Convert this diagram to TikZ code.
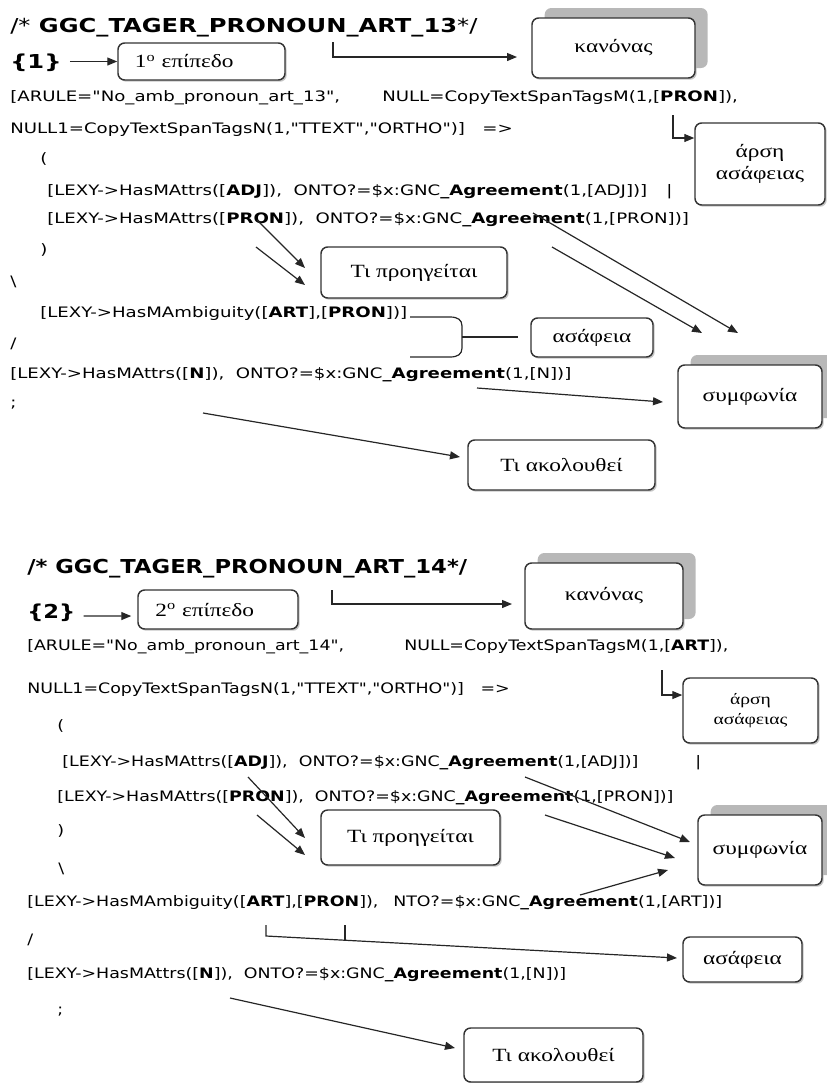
\documentclass[tikz,border=0pt]{standalone}
\usepackage{fontspec}
\usetikzlibrary{arrows.meta,shadows}
\newfontfamily\codefont[Ligatures=TeXOff,FakeStretch=1.26]{DejaVu Sans}
\newfontfamily\codefontb[Ligatures=TeXOff,FakeStretch=1.21]{DejaVu Sans}
\newfontfamily\ttlfontb[Ligatures=TeXOff,FakeStretch=1.18]{DejaVu Sans}
\newfontfamily\grfont[FakeStretch=1.25]{Liberation Serif}
\begin{document}
\begin{tikzpicture}[x=0.75pt,y=-0.75pt,
  code/.style={font=\codefont\fontsize{10.8pt}{13pt}\selectfont, inner sep=0pt, anchor=base west},
  codeb/.style={font=\codefontb\fontsize{10.8pt}{13pt}\selectfont, inner sep=0pt, anchor=base west},
  ttl/.style={font=\codefont\bfseries\fontsize{14.4pt}{17pt}\selectfont, inner sep=0pt, anchor=base west},
  ttlb/.style={font=\ttlfontb\bfseries\fontsize{14.4pt}{17pt}\selectfont, inner sep=0pt, anchor=base west},
  lbl/.style={draw=black!80, line width=1.1pt, rounded corners=5pt, fill=white,
    font=\grfont\fontsize{14pt}{17pt}\selectfont, align=center, inner sep=0pt,
    drop shadow={shadow xshift=1.3pt, shadow yshift=-1.3pt, fill=black!45}},
  stack/.style={copy shadow={shadow xshift=9.5pt, shadow yshift=7.5pt, fill=black!28, draw=none}},
  arr/.style={-{Triangle[length=7.5pt,width=6pt]}, line width=0.9pt, black!85},
  ln/.style={line width=0.9pt, black!85}]
\useasboundingbox (0,0) rectangle (826,1083);

%%%%%%%%%%%%%%%%%%%% TOP %%%%%%%%%%%%%%%%%%%%
\node[ttl] (t1) at (10,32) {{\mdseries/*} GGC\_TAGER\_PRONOUN\_ART\_13{\mdseries*/}};
\node[ttl] (b1) at (10,68) {\{1\}};
\node[lbl, minimum width=125.25pt, minimum height=27.75pt, text width=100pt, align=left] (e1) at (201.5,61.5) {1\textsuperscript{ο} επίπεδο};

\node[code] (l1) at (10,101) {[ARULE="No\_amb\_pronoun\_art\_13",};
\node[code] (l1b) at (382,101) {NULL=CopyTextSpanTagsM(1,[\textbf{PRON}]),};
\node[code] (l2) at (10,133) {NULL1=CopyTextSpanTagsN(1,"TTEXT","ORTHO")]\ \ \ =>};
\node[code] (l3) at (40,163) {(};
\node[code] (l4) at (47,195) {[LEXY->HasMAttrs([\textbf{ADJ}]),\ \ ONTO?=\$x:GNC\textbf{\_Agreement}(1,[ADJ])]};
\node[code] (l4b) at (666,195) {|};
\node[code] (l5) at (47,223) {[LEXY->HasMAttrs([\textbf{PRON}]),\ \ ONTO?=\$x:GNC\textbf{\_Agreement}(1,[PRON])]};
\node[code] (l6) at (40,254) {)};
\node[code] (l7) at (10,286) {\textbackslash};
\node[code] (l8) at (40,317) {[LEXY->HasMAmbiguity([\textbf{ART}],[\textbf{PRON}])]};
\node[code] (l9) at (10,348) {/};
\node[code] (l10) at (10,378) {[LEXY->HasMAttrs([\textbf{N}]),\ \ ONTO?=\$x:GNC\textbf{\_Agreement}(1,[N])]};
\node[code] (l11) at (10,407) {;};

\node[lbl, stack, minimum width=122.25pt, minimum height=45pt] (kan1) at (613.5,48) {κανόνας};
\node[lbl, minimum width=97.5pt, minimum height=61.5pt] (ars1) at (760,164) {άρση\\ασάφειας};
\node[lbl, minimum width=139.5pt, minimum height=38.25pt] (prev1) at (414,272.5) {Τι προηγείται};
\node[lbl, minimum width=91.5pt, minimum height=29.25pt] (asaf1) at (592,337.5) {ασάφεια};
\node[lbl, stack, minimum width=108pt, minimum height=47.25pt] (sym1) at (750,396.5) {συμφωνία};
\node[lbl, minimum width=140.25pt, minimum height=37.5pt] (next1) at (561.5,465) {Τι ακολουθεί};

\coordinate (a2s) at (333,42);   \coordinate (a2e) at (517,57);
\coordinate (a3s) at (673,115);
\coordinate (a4s) at (257,220);  \coordinate (a4e) at (305,268);
\coordinate (a5s) at (256,247);  \coordinate (a5e) at (305,285);
\coordinate (a6s) at (533,213);  \coordinate (a6e) at (738,333);
\coordinate (a7s) at (552,247);  \coordinate (a7e) at (702,333);
\coordinate (a8s) at (477,388);  \coordinate (a8e) at (663,402);
\coordinate (a9s) at (203,413);  \coordinate (a9e) at (460,457);
\coordinate (brt) at (410,317);  \coordinate (brb) at (410,357);
\coordinate (brm) at (462,337);  \coordinate (bre) at (518,337);

\draw[arr, shorten <=6pt] (b1.east |- e1.west) -- (e1.west);
\draw[arr] (a2s) |- (a2e);
\draw[arr] (a3s) |- ([yshift=19.5pt]ars1.west);
\draw[arr] (a4s) -- (a4e);
\draw[arr] (a5s) -- (a5e);
\draw[arr] (a6s) -- (a6e);
\draw[arr] (a7s) -- (a7e);
\draw[arr] (a8s) -- (a8e);
\draw[arr] (a9s) -- (a9e);
\draw[ln] (brt) -- (450,317) .. controls (458,317) and (462,320) .. (462,326)
          -- (462,348) .. controls (462,354) and (458,357) .. (450,357) -- (brb);
\draw[ln] (brm) -- (bre);

%%%%%%%%%%%%%%%%%%%% BOTTOM %%%%%%%%%%%%%%%%%%%%
\node[ttlb] (t2) at (27,573) {/* GGC\_TAGER\_PRONOUN\_ART\_14*/};
\node[ttlb] (b2) at (27,618) {\{2\}};
\node[lbl, minimum width=120pt, minimum height=29.25pt, text width=94pt, align=left] (e2) at (218,609.5) {2\textsuperscript{ο} επίπεδο};

\node[codeb] (m1) at (27,650) {[ARULE="No\_amb\_pronoun\_art\_14",};
\node[codeb] (m1b) at (404,650) {NULL=CopyTextSpanTagsM(1,[\textbf{ART}]),};
\node[codeb] (m2) at (27,693) {NULL1=CopyTextSpanTagsN(1,"TTEXT","ORTHO")]\ \ \ =>};
\node[codeb] (m3) at (57,730) {(};
\node[codeb] (m4) at (62,766) {[LEXY->HasMAttrs([\textbf{ADJ}]),\ \ ONTO?=\$x:GNC\textbf{\_Agreement}(1,[ADJ])]};
\node[codeb] (m4b) at (695,766) {|};
\node[codeb] (m5) at (57,801) {[LEXY->HasMAttrs([\textbf{PRON}]),\ \ ONTO?=\$x:GNC\textbf{\_Agreement}(1,[PRON])]};
\node[codeb] (m6) at (57,835) {)};
\node[codeb] (m7) at (58,873) {\textbackslash};
\node[codeb] (m8) at (27,906) {[LEXY->HasMAmbiguity([\textbf{ART}],[\textbf{PRON}]),};
\node[codeb] (m8b) at (393,906) {NTO?=\$x:GNC\textbf{\_Agreement}(1,[ART])]};
\node[codeb] (m9) at (27,944) {/};
\node[codeb] (m10) at (27,978) {[LEXY->HasMAttrs([\textbf{N}]),\ \ ONTO?=\$x:GNC\textbf{\_Agreement}(1,[N])]};
\node[codeb] (m11) at (57,1014) {;};

\node[lbl, stack, minimum width=118.5pt, minimum height=49.5pt] (kan2) at (604,596) {κανόνας};
\node[lbl, minimum width=101.25pt, minimum height=48.75pt, font=\grfont\fontsize{11.75pt}{15pt}\selectfont] (ars2) at (750.5,710.5) {άρση\\ασάφειας};
\node[lbl, minimum width=134.25pt, minimum height=41.25pt] (prev2) at (410.5,837.5) {Τι προηγείται};
\node[lbl, stack, minimum width=93pt, minimum height=52.5pt] (sym2) at (760,850) {συμφωνία};
\node[lbl, minimum width=89.25pt, minimum height=33.75pt] (asaf2) at (742.5,959.5) {ασάφεια};
\node[lbl, minimum width=134.25pt, minimum height=40.5pt] (next2) at (553.5,1055) {Τι ακολουθεί};

\coordinate (b2s) at (332,590);  \coordinate (b2e) at (512,604);
\coordinate (b3s) at (662,670);
\coordinate (b4s) at (248,777);  \coordinate (b4e) at (305,838);
\coordinate (b5s) at (257,815);  \coordinate (b5e) at (305,855);
\coordinate (b6s) at (525,777);  \coordinate (b6e) at (690,842);
\coordinate (b7s) at (545,815);  \coordinate (b7e) at (675,858);
\coordinate (b8s) at (580,895);  \coordinate (b8e) at (668,870);
\coordinate (b9s) at (266,925);  \coordinate (b9t) at (345,925);
\coordinate (b9e) at (677,958);
\coordinate (b10s) at (230,998); \coordinate (b10e) at (455,1048);

\draw[arr, shorten <=6pt] (b2.east |- 0,616) -- ([yshift=-4.9pt,xshift=-4.5pt]e2.west);
\draw[arr] (b2s) |- (b2e);
\draw[arr] (b3s) |- ([yshift=11.6pt]ars2.west);
\draw[arr] (b4s) -- (b4e);
\draw[arr] (b5s) -- (b5e);
\draw[arr] (b6s) -- (b6e);
\draw[arr] (b7s) -- (b7e);
\draw[arr] (b8s) -- (b8e);
\draw[arr] (b9s) -- ++(0,11) -- (b9e);
\draw[ln] (b9t) -- ++(0,15.2);
\draw[arr] (b10s) -- (b10e);
\end{tikzpicture}
\end{document}
